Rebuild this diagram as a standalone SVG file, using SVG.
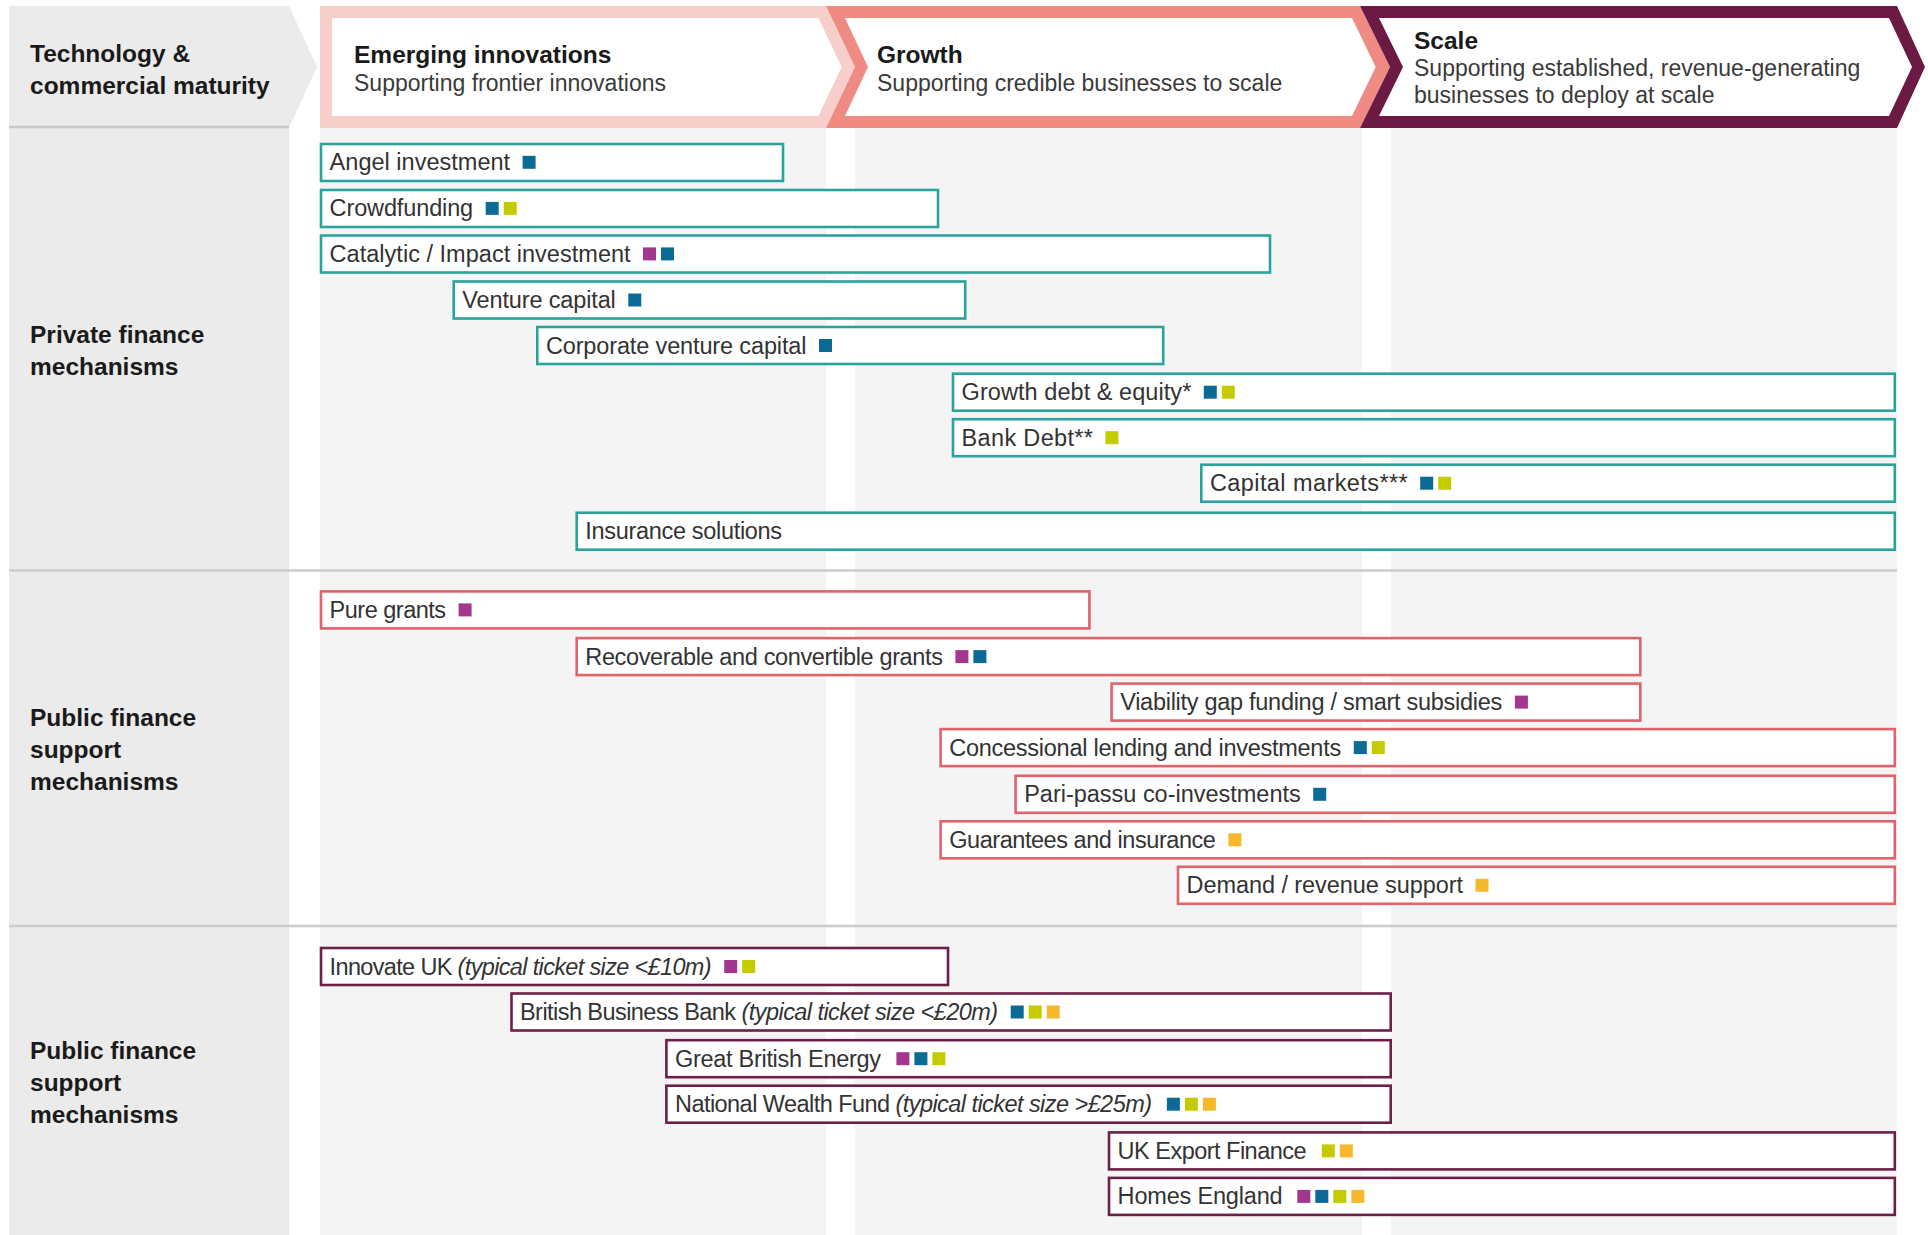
<svg xmlns="http://www.w3.org/2000/svg" width="1928" height="1235" viewBox="0 0 1928 1235">
<defs>
<style>
.bold{font-family:"Liberation Sans",Arial,sans-serif;font-weight:bold;font-size:24.5px;fill:#1a1a1a}
.sub{font-family:"Liberation Sans",Arial,sans-serif;font-size:23px;fill:#3a3a3a}
.lbl{font-family:"Liberation Sans",Arial,sans-serif;font-size:23.5px;fill:#333333}
.it{font-style:italic}
.bx{fill:#ffffff;stroke-width:2.6}
.pv .bx{stroke:#2aa39c}
.pb .bx{stroke:#e0626a}
.pg .bx{stroke:#6d1f48}
.m{fill:#a3378d}
.b{fill:#0c6b95}
.y{fill:#c4cc00}
.a{fill:#f6b92b}
.col{fill:#f4f4f4}
.div{stroke:#cccccc;stroke-width:2.5}
</style>
</defs>
<rect width="1928" height="1235" fill="#ffffff"/>
<!-- backgrounds -->
<g id="background">
<rect x="9" y="128" width="280" height="1107" fill="#ebebeb"/>
<rect class="col" x="320" y="128" width="506" height="1107"/>
<rect class="col" x="855" y="128" width="507" height="1107"/>
<rect class="col" x="1391" y="128" width="506" height="1107"/>
<line class="div" x1="9" y1="570.5" x2="1897" y2="570.5"/>
<line class="div" x1="9" y1="926" x2="1897" y2="926"/>
</g>
<!-- header -->
<g id="header-maturity">
<polygon points="9,6 289,6 317,67 289,128 9,128" fill="#ebebeb"/>
<line x1="9" y1="127" x2="289" y2="127" stroke="#c8c8c8" stroke-width="2.5"/>
<text class="bold" x="30" y="61.5" font-size="24">Technology &amp;</text>
<text class="bold" x="30" y="93.5" font-size="24">commercial maturity</text>
</g>
<g id="header-emerging">
<polygon points="320,6 826,6 855,67 826,128 320,128" fill="#f7cfca"/>
<polygon points="332,18 818.4,18 841.7,67 818.4,116 332,116" fill="#ffffff"/>
<text class="bold" x="354" y="63">Emerging innovations</text>
<text class="sub" x="354" y="91">Supporting frontier innovations</text>
</g>
<g id="header-growth">
<polygon points="826,6 1360,6 1390,67 1360,128 826,128 855,67" fill="#ef8b83"/>
<polygon points="845,18 1352,18 1375.7,67 1352,116 845,116 868,67" fill="#ffffff"/>
<text class="bold" x="877" y="63">Growth</text>
<text class="sub" x="877" y="91">Supporting credible businesses to scale</text>
</g>
<g id="header-scale">
<polygon points="1360,6 1897,6 1925,67 1897,128 1360,128 1390,67" fill="#6b1a43"/>
<polygon points="1379,18 1889,18 1912,67 1889,116 1379,116 1403,67" fill="#ffffff"/>
<text class="bold" x="1414" y="49">Scale</text>
<text class="sub" x="1414" y="76">Supporting established, revenue-generating</text>
<text class="sub" x="1414" y="103">businesses to deploy at scale</text>
</g>
<!-- row labels -->
<g id="label-private">
<text class="bold" x="30" y="343">Private finance</text>
<text class="bold" x="30" y="375">mechanisms</text>
</g>
<g id="label-public-1">
<text class="bold" x="30" y="725.5">Public finance</text>
<text class="bold" x="30" y="757.5">support</text>
<text class="bold" x="30" y="789.5">mechanisms</text>
</g>
<g id="label-public-2">
<text class="bold" x="30" y="1059">Public finance</text>
<text class="bold" x="30" y="1091">support</text>
<text class="bold" x="30" y="1123">mechanisms</text>
</g>
<!-- private finance -->
<g class="pv">
<g id="angel-investment">
<rect class="bx" x="321" y="144" width="462" height="37"/>
<text class="lbl" x="329.6" y="170.3" textLength="180.5">Angel investment</text>
<rect class="b" x="522.6" y="155.8" width="13" height="13"/>
</g>
<g id="crowdfunding">
<rect class="bx" x="321" y="190" width="617" height="37"/>
<text class="lbl" x="329.6" y="216.4" textLength="143.6">Crowdfunding</text>
<rect class="b" x="485.7" y="201.9" width="13" height="13"/>
<rect class="y" x="503.7" y="201.9" width="13" height="13"/>
</g>
<g id="catalytic-impact-investment">
<rect class="bx" x="321" y="235.5" width="949" height="37"/>
<text class="lbl" x="329.6" y="261.9" textLength="301">Catalytic / Impact investment</text>
<rect class="m" x="643" y="247.4" width="13" height="13"/>
<rect class="b" x="661" y="247.4" width="13" height="13"/>
</g>
<g id="venture-capital">
<rect class="bx" x="453.7" y="281.5" width="511.5" height="37"/>
<text class="lbl" x="462.3" y="308" textLength="153.5">Venture capital</text>
<rect class="b" x="628.3" y="293.5" width="13" height="13"/>
</g>
<g id="corporate-venture-capital">
<rect class="bx" x="537.3" y="327" width="625.9" height="37"/>
<text class="lbl" x="545.9" y="353.5" textLength="260.6">Corporate venture capital</text>
<rect class="b" x="819" y="339" width="13" height="13"/>
</g>
<g id="growth-debt-equity">
<rect class="bx" x="953" y="373.7" width="941.8" height="37"/>
<text class="lbl" x="961.6" y="400.2" textLength="229.7">Growth debt &amp; equity*</text>
<rect class="b" x="1203.8" y="385.7" width="13" height="13"/>
<rect class="y" x="1221.8" y="385.7" width="13" height="13"/>
</g>
<g id="bank-debt">
<rect class="bx" x="953" y="419.2" width="941.8" height="37"/>
<text class="lbl" x="961.6" y="445.7" textLength="131.4">Bank Debt**</text>
<rect class="y" x="1105.4" y="431.2" width="13" height="13"/>
</g>
<g id="capital-markets">
<rect class="bx" x="1201.3" y="464.7" width="693.5" height="37"/>
<text class="lbl" x="1209.9" y="491.2" textLength="197.8">Capital markets***</text>
<rect class="b" x="1420.2" y="476.7" width="13" height="13"/>
<rect class="y" x="1438.2" y="476.7" width="13" height="13"/>
</g>
<g id="insurance-solutions">
<rect class="bx" x="576.7" y="512.7" width="1318.1" height="37"/>
<text class="lbl" x="585.3" y="539.2" textLength="196.8">Insurance solutions</text>
</g>
</g>
<!-- public finance 1 -->
<g class="pb">
<g id="pure-grants">
<rect class="bx" x="321" y="591.4" width="768.4" height="37"/>
<text class="lbl" x="329.6" y="617.9" textLength="116.5">Pure grants</text>
<rect class="m" x="458.6" y="603.4" width="13" height="13"/>
</g>
<g id="recoverable-convertible-grants">
<rect class="bx" x="576.7" y="638.1" width="1063.6" height="37"/>
<text class="lbl" x="585.3" y="664.6" textLength="357.6">Recoverable and convertible grants</text>
<rect class="m" x="955.4" y="650.1" width="13" height="13"/>
<rect class="b" x="973.4" y="650.1" width="13" height="13"/>
</g>
<g id="viability-gap-funding">
<rect class="bx" x="1111.6" y="683.6" width="528.7" height="37"/>
<text class="lbl" x="1120.2" y="710.1" textLength="382">Viability gap funding / smart subsidies</text>
<rect class="m" x="1514.9" y="695.6" width="13" height="13"/>
</g>
<g id="concessional-lending">
<rect class="bx" x="940.6" y="729.1" width="954.2" height="37"/>
<text class="lbl" x="949.2" y="755.6" textLength="392">Concessional lending and investments</text>
<rect class="b" x="1353.8" y="741.1" width="13" height="13"/>
<rect class="y" x="1371.8" y="741.1" width="13" height="13"/>
</g>
<g id="pari-passu">
<rect class="bx" x="1015.6" y="775.8" width="879.2" height="37"/>
<text class="lbl" x="1024.2" y="802.3" textLength="276.5">Pari-passu co-investments</text>
<rect class="b" x="1313.2" y="787.8" width="13" height="13"/>
</g>
<g id="guarantees-insurance">
<rect class="bx" x="940.6" y="821.3" width="954.2" height="37"/>
<text class="lbl" x="949.2" y="847.8" textLength="266.7">Guarantees and insurance</text>
<rect class="a" x="1228.4" y="833.3" width="13" height="13"/>
</g>
<g id="demand-revenue-support">
<rect class="bx" x="1178" y="866.8" width="716.8" height="37"/>
<text class="lbl" x="1186.6" y="893.3" textLength="276.4">Demand / revenue support</text>
<rect class="a" x="1475.5" y="878.8" width="13" height="13"/>
</g>
</g>
<!-- public finance 2 -->
<g class="pg">
<g id="innovate-uk">
<rect class="bx" x="321" y="948" width="627" height="37"/>
<text class="lbl" x="329.6" y="974.5" textLength="382">Innovate UK <tspan class="it">(typical ticket size &lt;£10m)</tspan></text>
<rect class="m" x="724.2" y="960" width="13" height="13"/>
<rect class="y" x="742.2" y="960" width="13" height="13"/>
</g>
<g id="british-business-bank">
<rect class="bx" x="511.5" y="993.5" width="879.2" height="37"/>
<text class="lbl" x="520" y="1020" textLength="478">British Business Bank <tspan class="it">(typical ticket size &lt;£20m)</tspan></text>
<rect class="b" x="1010.7" y="1005.5" width="13" height="13"/>
<rect class="y" x="1028.7" y="1005.5" width="13" height="13"/>
<rect class="a" x="1046.7" y="1005.5" width="13" height="13"/>
</g>
<g id="great-british-energy">
<rect class="bx" x="666.4" y="1040.2" width="724.3" height="37"/>
<text class="lbl" x="675" y="1066.7" textLength="206">Great British Energy</text>
<rect class="m" x="896.4" y="1052.2" width="13" height="13"/>
<rect class="b" x="914.4" y="1052.2" width="13" height="13"/>
<rect class="y" x="932.4" y="1052.2" width="13" height="13"/>
</g>
<g id="national-wealth-fund">
<rect class="bx" x="666.4" y="1085.7" width="724.3" height="37"/>
<text class="lbl" x="675" y="1112.2" textLength="477">National Wealth Fund <tspan class="it">(typical ticket size &gt;£25m)</tspan></text>
<rect class="b" x="1166.9" y="1097.7" width="13" height="13"/>
<rect class="y" x="1184.9" y="1097.7" width="13" height="13"/>
<rect class="a" x="1202.9" y="1097.7" width="13" height="13"/>
</g>
<g id="uk-export-finance">
<rect class="bx" x="1109" y="1132.4" width="785.8" height="37"/>
<text class="lbl" x="1117.6" y="1158.9" textLength="189">UK Export Finance</text>
<rect class="y" x="1321.8" y="1144.4" width="13" height="13"/>
<rect class="a" x="1339.8" y="1144.4" width="13" height="13"/>
</g>
<g id="homes-england">
<rect class="bx" x="1109" y="1177.9" width="785.8" height="37"/>
<text class="lbl" x="1117.6" y="1204.4" textLength="165">Homes England</text>
<rect class="m" x="1297.3" y="1189.9" width="13" height="13"/>
<rect class="b" x="1315.3" y="1189.9" width="13" height="13"/>
<rect class="y" x="1333.3" y="1189.9" width="13" height="13"/>
<rect class="a" x="1351.3" y="1189.9" width="13" height="13"/>
</g>
</g>
</svg>
